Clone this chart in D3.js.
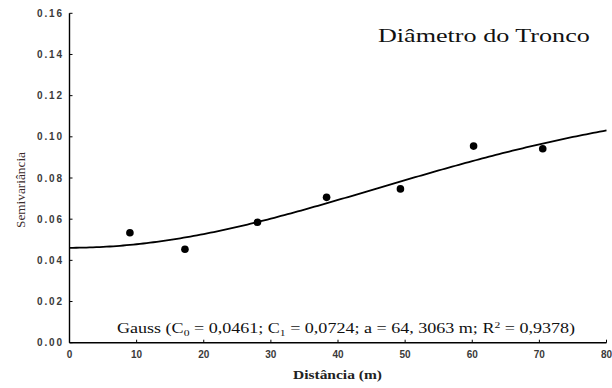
<!DOCTYPE html>
<html>
<head>
<meta charset="utf-8">
<script src="https://cdn.jsdelivr.net/npm/d3@7"></script>
<style>
  html, body { margin: 0; padding: 0; background: #fff; }
  svg { display: block; }
</style>
</head>
<body>
<svg id="chart" width="612" height="388"></svg>
<script>
// Experimental semivariance of trunk diameter
const distances = [9.0, 17.2, 28.0, 38.3, 49.3, 60.2, 70.5];
const semivariance = [0.0534, 0.0454, 0.0585, 0.0706, 0.0747, 0.0955, 0.0942];

// Fitted Gaussian model parameters
const nugget = 0.0461;   // C0
const sill = 0.0724;     // C1
const range = 64.3063;   // a
const rSquared = 0.9378;

const xTicks = [0, 10, 20, 30, 40, 50, 60, 70, 80];
const yTicks = [0.00, 0.02, 0.04, 0.06, 0.08, 0.10, 0.12, 0.14, 0.16];

const title = "Diâmetro do Tronco";
const xTitle = "Distância (m)";
const yTitle = "Semivariância";

const svg = d3.select("#chart");

const x = d3.scaleLinear().domain([0, 80]).range([69.5, 606.5]);
const y = d3.scaleLinear().domain([0, 0.16]).range([342.7, 13.3]);

// Gaussian variogram: C0 + C1 * (1 - exp(-(h/a)^2))
const gauss = h => nugget + sill * (1 - Math.exp(-(h / range) * (h / range)));
const curveH = d3.range(0, 80.01, 0.5);

// Stretch a text element horizontally so it spans the given width
function fitWidth(sel, left, baseline, width) {
  const w = sel.node().getBBox().width;
  sel.attr("transform", `translate(${left},${baseline}) scale(${width / w},1)`);
}

// Axes
const axisColor = "#000";
svg.append("line")
  .attr("x1", x(0)).attr("x2", x(0))
  .attr("y1", y(0.16)).attr("y2", y(0))
  .attr("stroke", axisColor).attr("stroke-width", 1.4);
svg.append("line")
  .attr("x1", x(0)).attr("x2", x(80))
  .attr("y1", y(0)).attr("y2", y(0))
  .attr("stroke", axisColor).attr("stroke-width", 1.4);

// Inward tick marks
svg.append("g").selectAll("line").data(yTicks).join("line")
  .attr("x1", x(0)).attr("x2", x(0) + 3)
  .attr("y1", d => y(d)).attr("y2", d => y(d))
  .attr("stroke", axisColor).attr("stroke-width", 1);
svg.append("g").selectAll("line").data(xTicks).join("line")
  .attr("x1", d => x(d)).attr("x2", d => x(d))
  .attr("y1", y(0)).attr("y2", y(0) - 3)
  .attr("stroke", axisColor).attr("stroke-width", 1);

// Tick labels
const tickFont = "'Liberation Sans', Arial, sans-serif";
svg.append("g").selectAll("text").data(yTicks).join("text")
  .attr("x", 62).attr("y", d => y(d) + 3.6)
  .attr("text-anchor", "end")
  .attr("font-family", tickFont).attr("font-weight", "bold")
  .attr("font-size", 10).attr("fill", "#3a3a3a")
  .attr("textLength", 25).attr("lengthAdjust", "spacing")
  .text(d => d3.format(".2f")(d));
svg.append("g").selectAll("text").data(xTicks).join("text")
  .attr("x", d => x(d)).attr("y", 358)
  .attr("text-anchor", "middle")
  .attr("font-family", tickFont).attr("font-weight", "bold")
  .attr("font-size", 10).attr("fill", "#3a3a3a")
  .text(d => d);

// Model curve
svg.append("path")
  .datum(curveH)
  .attr("fill", "none").attr("stroke", "#000").attr("stroke-width", 1.8)
  .attr("d", d3.line().x(h => x(h)).y(h => y(gauss(h))));

// Experimental points
svg.append("g").selectAll("circle").data(distances).join("circle")
  .attr("cx", d => x(d))
  .attr("cy", (d, i) => y(semivariance[i]))
  .attr("r", 3.8)
  .attr("fill", "#000");

const serif = "'Liberation Serif', 'Times New Roman', serif";

// Chart title
const t = svg.append("text")
  .attr("font-family", serif).attr("font-size", 19).attr("fill", "#111")
  .text(title);
fitWidth(t, 378, 41.7, 212);

// Model annotation
const comma = v => v.toFixed(4).replace(".", ",");
const note = svg.append("text")
  .attr("font-family", serif).attr("font-size", 14).attr("fill", "#111");
note.append("tspan").text("Gauss (C");
note.append("tspan").attr("font-size", 9).attr("dy", 3).text("0");
note.append("tspan").attr("dy", -3).text(` = ${comma(nugget)}; C`);
note.append("tspan").attr("font-size", 9).attr("dy", 3).text("1");
note.append("tspan").attr("dy", -3).text(` = ${comma(sill)}; a = ${range.toFixed(4).replace(".", ", ")} m; R`);
note.append("tspan").attr("font-size", 9).attr("dy", -5).text("2");
note.append("tspan").attr("dy", 5).text(` = ${comma(rSquared)})`);
fitWidth(note, 117, 333, 459);

// Axis titles
const xt = svg.append("text")
  .attr("font-family", serif).attr("font-weight", "bold")
  .attr("font-size", 13).attr("fill", "#222")
  .text(xTitle);
fitWidth(xt, 293, 379, 89);

const yt = svg.append("text")
  .attr("font-family", serif).attr("font-size", 12.5).attr("fill", "#3a2a2a")
  .attr("text-anchor", "middle")
  .attr("transform", "translate(24.5,190) rotate(-90)")
  .attr("textLength", 76).attr("lengthAdjust", "spacingAndGlyphs")
  .text(yTitle);
</script>
</body>
</html>
